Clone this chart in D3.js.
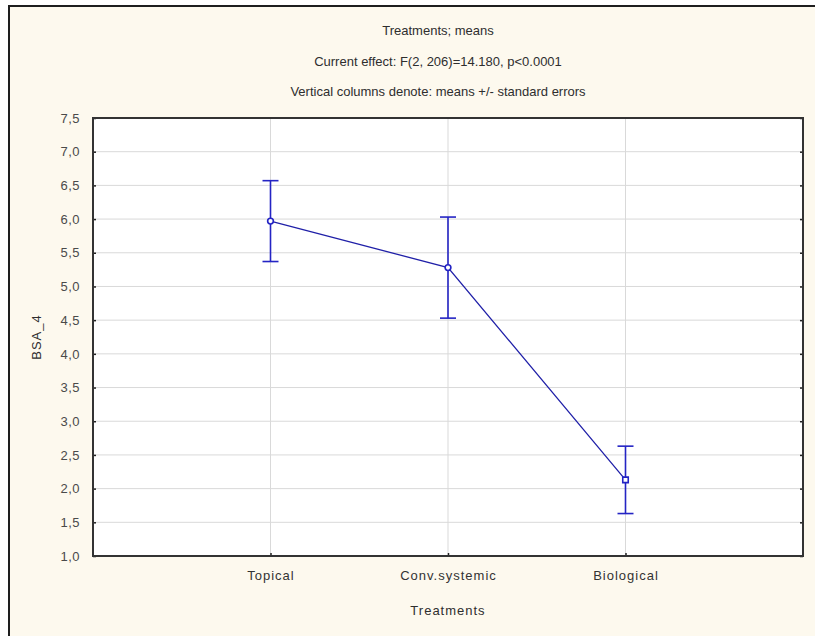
<!DOCTYPE html>
<html>
<head>
<meta charset="utf-8">
<script src="https://cdn.jsdelivr.net/npm/d3@7"></script>
<style>
  body { margin: 0; background: #ffffff; }
  svg { display: block; }
  text { font-family: "Liberation Sans", Arial, sans-serif; }
</style>
</head>
<body>
<script>
// data
const treatments = ["Topical", "Conv.systemic", "Biological"];
const means = [5.97, 5.28, 2.13];
const stdErrors = [0.60, 0.75, 0.50];
const yTicks = [1.0, 1.5, 2.0, 2.5, 3.0, 3.5, 4.0, 4.5, 5.0, 5.5, 6.0, 6.5, 7.0, 7.5];
const titleLines = [
  "Treatments; means",
  "Current effect: F(2, 206)=14.180, p<0.0001",
  "Vertical columns denote: means +/- standard errors"
];

const width = 815, height = 636;
const plot = { left: 93, top: 118, right: 803, bottom: 556 };
const blue = "#2424c4";

const svg = d3.select("body").append("svg")
    .attr("width", width)
    .attr("height", height);

// outer window frame (runs off the right and bottom)
svg.append("rect")
    .attr("x", 9).attr("y", 6)
    .attr("width", 900).attr("height", 700)
    .style("fill", "#fdf9ee")
    .style("stroke", "#1e1e1e")
    .style("stroke-width", 2);

// scales
const x = d3.scalePoint()
    .domain(treatments)
    .range([plot.left, plot.right])
    .padding(1);

const y = d3.scaleLinear()
    .domain([1.0, 7.5])
    .range([plot.bottom, plot.top]);

// plot area
svg.append("rect")
    .attr("x", plot.left).attr("y", plot.top)
    .attr("width", plot.right - plot.left)
    .attr("height", plot.bottom - plot.top)
    .style("fill", "#ffffff");

// grid lines
svg.append("g")
  .selectAll("line")
  .data(yTicks.filter(d => d > 1.0 && d < 7.5))
  .join("line")
    .attr("x1", plot.left).attr("x2", plot.right)
    .attr("y1", d => y(d)).attr("y2", d => y(d))
    .style("stroke", "#d9d9d9")
    .style("stroke-width", 1);

svg.append("g")
  .selectAll("line")
  .data(treatments)
  .join("line")
    .attr("x1", d => x(d)).attr("x2", d => x(d))
    .attr("y1", plot.top).attr("y2", plot.bottom)
    .style("stroke", "#d9d9d9")
    .style("stroke-width", 1);

// y axis on the left, plus mirrored ticks on the right
const fmt = d => d3.format(".1f")(d).replace(".", ",");

const yAxis = svg.append("g")
    .attr("transform", `translate(${plot.left},0)`)
    .call(d3.axisLeft(y).tickValues(yTicks).tickFormat(fmt).tickSize(-3).tickPadding(13));

const yAxisRight = svg.append("g")
    .attr("transform", `translate(${plot.right},0)`)
    .call(d3.axisRight(y).tickValues(yTicks).tickFormat("").tickSize(-3));

const xAxis = svg.append("g")
    .attr("transform", `translate(0,${plot.bottom})`)
    .call(d3.axisBottom(x).tickSize(-3).tickPadding(15));

[yAxis, yAxisRight, xAxis].forEach(g => {
  g.select(".domain").remove();
  g.selectAll(".tick line").style("stroke", "#222").style("stroke-width", 1.5);
});

yAxis.selectAll("text")
    .style("font-size", "13px")
    .style("fill", "#4a4a4a")
    .style("letter-spacing", "0.5px");

xAxis.selectAll("text")
    .style("font-size", "13px")
    .style("fill", "#333")
    .style("letter-spacing", "1px");

// plot border
svg.append("rect")
    .attr("x", plot.left).attr("y", plot.top)
    .attr("width", plot.right - plot.left)
    .attr("height", plot.bottom - plot.top)
    .style("fill", "none")
    .style("stroke", "#333")
    .style("stroke-width", 2);

// titles
svg.append("g")
  .selectAll("text")
  .data(titleLines)
  .join("text")
    .attr("x", 438)
    .attr("y", (d, i) => 35 + i * 30.5)
    .attr("text-anchor", "middle")
    .style("font-size", "13px")
    .style("fill", "#2e2e2e")
    .text(d => d);

// axis titles
svg.append("text")
    .attr("x", x(treatments[1]))
    .attr("y", 615)
    .attr("text-anchor", "middle")
    .style("font-size", "13px")
    .style("fill", "#2e2e2e")
    .style("letter-spacing", "1px")
    .text("Treatments");

svg.append("text")
    .attr("transform", `translate(41,${(plot.top + plot.bottom) / 2}) rotate(-90)`)
    .attr("text-anchor", "middle")
    .style("font-size", "13px")
    .style("fill", "#2e2e2e")
    .style("letter-spacing", "1px")
    .text("BSA_4");

// means line
const rows = treatments.map((t, i) => ({ t, m: means[i], se: stdErrors[i] }));

svg.append("path")
    .datum(rows)
    .attr("d", d3.line().x(d => x(d.t)).y(d => y(d.m)))
    .style("fill", "none")
    .style("stroke", "#2020a8")
    .style("stroke-width", 1.3);

// error bars
const bars = svg.append("g")
  .selectAll("g")
  .data(rows)
  .join("g")
    .style("stroke", blue)
    .style("stroke-width", 1.6);

bars.append("line")
    .attr("x1", d => x(d.t)).attr("x2", d => x(d.t))
    .attr("y1", d => y(d.m + d.se)).attr("y2", d => y(d.m - d.se));

bars.append("line")
    .attr("x1", d => x(d.t) - 8).attr("x2", d => x(d.t) + 8)
    .attr("y1", d => y(d.m + d.se)).attr("y2", d => y(d.m + d.se));

bars.append("line")
    .attr("x1", d => x(d.t) - 8).attr("x2", d => x(d.t) + 8)
    .attr("y1", d => y(d.m - d.se)).attr("y2", d => y(d.m - d.se));

// point markers: circles, last one a square
svg.append("g")
  .selectAll("path")
  .data(rows)
  .join("path")
    .attr("transform", d => `translate(${x(d.t)},${y(d.m)})`)
    .attr("d", (d, i) => d3.symbol().type(i === 2 ? d3.symbolSquare : d3.symbolCircle).size(i === 2 ? 30 : 26)())
    .style("fill", "#ffffff")
    .style("stroke", blue)
    .style("stroke-width", 1.6);
</script>
</body>
</html>
